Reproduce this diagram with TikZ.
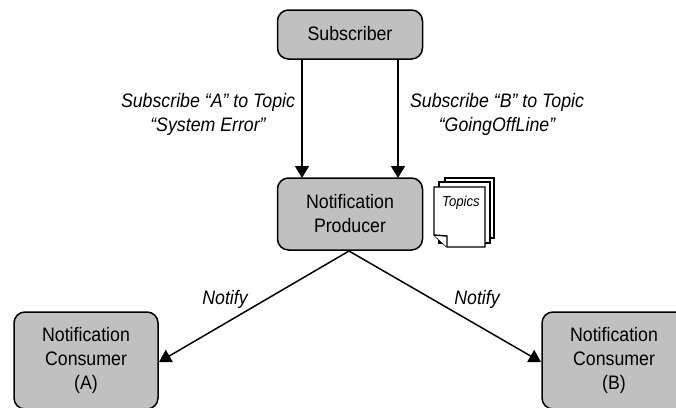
\documentclass[tikz,border=0pt]{standalone}
\usepackage{fontspec}
\setmainfont[FakeStretch=0.91]{Liberation Sans}
\usetikzlibrary{arrows.meta,positioning}
\definecolor{boxgray}{RGB}{192,192,192}
\tikzset{
  every node/.style={font=\fontsize{19.5}{24}\selectfont},
  boxn/.style={draw=black,line width=1.5pt,fill=boxgray,rounded corners=11pt,align=center,inner sep=0pt},
  conn/.style={draw=black,line width=1.5pt,-{Triangle[length=12pt,width=14pt]},shorten >=0pt},
  lab/.style={font=\fontsize{19.5}{24}\selectfont\itshape,align=center,inner sep=0pt},
  page/.style={draw=black,line width=1.4pt,fill=white}
}
\begin{document}
\begin{tikzpicture}[x=1pt,y=-1pt]
\useasboundingbox (0,0) rectangle (676,407);
\clip (0,0) rectangle (676,407);
\node[boxn,minimum width=145pt,minimum height=49pt] (sub) at (350,34.5) {\raisebox{2.5pt}{Subscriber}};
\node[boxn,minimum width=145pt,minimum height=72pt] (prod) at (350,214) {Notification\\Producer};
\node[boxn,minimum width=144pt,minimum height=97pt] (ca) at (86,360.5) {Notification\\Consumer\\(A)};
\node[boxn,minimum width=144pt,minimum height=97pt] (cb) at (614,360.5) {Notification\\Consumer\\(B)};
\coordinate (s1) at (302,59); \coordinate (p1) at (302,178);
\coordinate (s2) at (398,59); \coordinate (p2) at (398,178);
\coordinate (pb) at (349,251);
\coordinate (ea) at (159,362); \coordinate (eb) at (541,362);
\draw[conn] (s1) -- (p1);
\draw[conn] (s2) -- (p2);
\draw[conn] (pb) -- (ea);
\draw[conn] (pb) -- (eb);
\node[lab] (la) at (208,114.5) {Subscribe “A” to Topic\\“System Error”};
\node[lab] (lb) at (497,114.5) {Subscribe “B” to Topic\\“GoingOffLine”};
\node[lab] (na) at (225,299) {Notify};
\node[lab] (nb) at (477,299) {Notify};
\draw[page] (445,178) rectangle (494,238);
\draw[page] (439,182) rectangle (490,243);
\draw[page] (434,187) -- (485,187) -- (485,247) -- (447,247) -- (434,235) -- cycle;
\draw[page] (434,235) -- (447,236) -- (447,247);
\node[lab,font=\fontsize{14.5}{14}\selectfont\itshape] (tp) at (461,203) {Topics};
\end{tikzpicture}
\end{document}
